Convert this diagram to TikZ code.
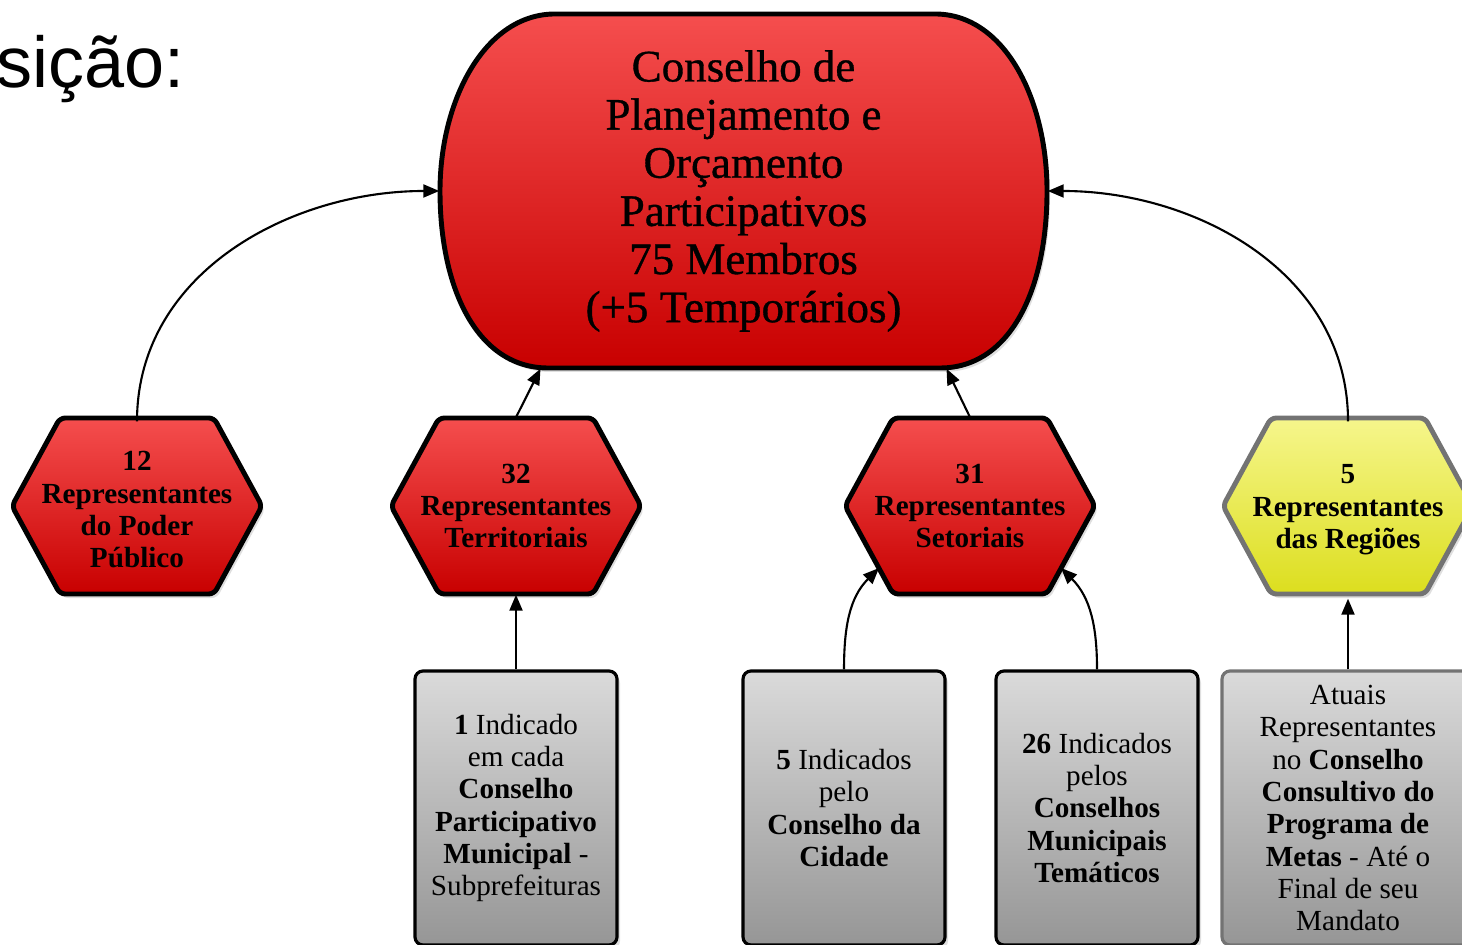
\documentclass[tikz,border=0pt]{standalone}
\usepackage{fontspec}
\setmainfont{Liberation Serif}
\newfontfamily\arialfont{Liberation Sans}
\newfontfamily\heavyserif[FakeBold=0.8]{Liberation Serif}
\usetikzlibrary{arrows.meta}
\usetikzlibrary{shadows}

\definecolor{redtop}{RGB}{245,78,78}
\definecolor{redbot}{RGB}{200,0,0}
\definecolor{yeltop}{RGB}{246,246,140}
\definecolor{yelbot}{RGB}{220,222,30}
\definecolor{greytop}{RGB}{218,218,218}
\definecolor{greybot}{RGB}{150,150,150}

\begin{document}
\begin{tikzpicture}[
  softshadow/.style={drop shadow={shadow xshift=0.03cm, shadow yshift=-0.04cm, opacity=0.25}},
  hexred/.style={draw=black, line width=1.4pt, rounded corners=1.5pt, top color=redtop, bottom color=redbot, softshadow},
  hexyellow/.style={draw=black!55, line width=1.4pt, rounded corners=1.5pt, top color=yeltop, bottom color=yelbot, softshadow},
  hexlabel/.style={rectangle, minimum width=2.50cm, minimum height=1.76cm, inner sep=0pt, align=center,
    font=\bfseries\fontsize{8.3}{9.2}\selectfont},
  greybox/.style={rectangle, rounded corners=0.08cm, draw=black, line width=0.9pt,
    minimum width=2.02cm, minimum height=2.74cm, inner sep=0pt, align=center,
    top color=greytop, bottom color=greybot, font=\fontsize{8.3}{9.2}\selectfont, softshadow},
  link/.style={line width=0.6pt, -{Triangle[length=0.16cm, width=0.13cm]}}
]
\useasboundingbox (0,0) rectangle (14.62,-9.45);

\node[font=\arialfont\fontsize{20.5}{25}\selectfont, anchor=base east] (ttl) at (1.97,-0.88) {sição:};

\draw[line width=1.4pt, top color=redtop, bottom color=redbot, softshadow]
  (5.55,-0.14) -- (9.35,-0.14) .. controls (10.05,-0.14) and (10.47,-1.00) .. (10.47,-1.91)
  .. controls (10.47,-2.90) and (10.10,-3.68) .. (9.40,-3.68) -- (5.48,-3.68)
  .. controls (4.78,-3.68) and (4.40,-2.90) .. (4.40,-1.91)
  .. controls (4.40,-1.00) and (4.85,-0.14) .. (5.55,-0.14) -- cycle;
\node[minimum width=6.07cm, minimum height=3.54cm, align=center,
  font=\heavyserif\fontsize{12.8}{13.7}\selectfont] (cpop) at (7.435,-1.91)
  {Conselho de\\ Planejamento e\\ Orçamento\\ Participativos\\ 75 Membros\\ (+5 Temporários)};

\foreach \x in {1.37,5.16,9.70}
  \draw[hexred] (\x-1.25,-5.06) -- (\x-0.77,-4.18) -- (\x+0.77,-4.18) -- (\x+1.25,-5.06)
    -- (\x+0.77,-5.94) -- (\x-0.77,-5.94) -- cycle;
\draw[hexyellow] (12.23,-5.06) -- (12.71,-4.18) -- (14.25,-4.18) -- (14.73,-5.06)
  -- (14.25,-5.94) -- (12.71,-5.94) -- cycle;

\node[hexlabel] (poder) at ( 1.37,-5.10) {12\\ Representantes\\ do Poder\\ Público};
\node[hexlabel] (terr)  at ( 5.16,-5.06) {32\\ Representantes\\ Territoriais};
\node[hexlabel] (set)   at ( 9.70,-5.06) {31\\ Representantes\\ Setoriais};
\node[hexlabel] (reg)   at (13.48,-5.10) {5\\ Representantes\\ das Regiões};

\node[greybox] (subpref) at ( 5.16,-8.08) {\textbf{1} Indicado\\ em cada\\ \textbf{Conselho}\\ \textbf{Participativo}\\ \textbf{Municipal} -\\ Subprefeituras};
\node[greybox] (cidade)  at ( 8.44,-8.08) {\textbf{5} Indicados\\ pelo\\ \textbf{Conselho da}\\ \textbf{Cidade}};
\node[greybox] (temat)   at (10.97,-8.08) {\textbf{26} Indicados\\ pelos\\ \textbf{Conselhos}\\ \textbf{Municipais}\\ \textbf{Temáticos}};
\node[greybox, draw=black!55, minimum width=2.52cm] (metas) at (13.48,-8.08) {Atuais\\ Representantes\\ no \textbf{Conselho}\\ \textbf{Consultivo do}\\ \textbf{Programa de}\\ \textbf{Metas} - Até o\\ Final de seu\\ Mandato};

\draw[link] (poder.north) to[out=90, in=180] (cpop.west);
\draw[link] (terr.north) -- ([xshift=-2.03cm]cpop.south);
\draw[link] (set.north) -- ([xshift=2.03cm]cpop.south);
\draw[link] (reg.north) to[out=90, in=0] (cpop.east);
\draw[link] (subpref.north) -- (terr.south);
\draw[link] (cidade.north) to[out=90, in=225] ([shift={(-0.91,-0.62)}]set.center);
\draw[link] (temat.north) to[out=90, in=-45] ([shift={(0.91,-0.62)}]set.center);
\draw[link] (metas.north) -- (reg.south);
\end{tikzpicture}
\end{document}
